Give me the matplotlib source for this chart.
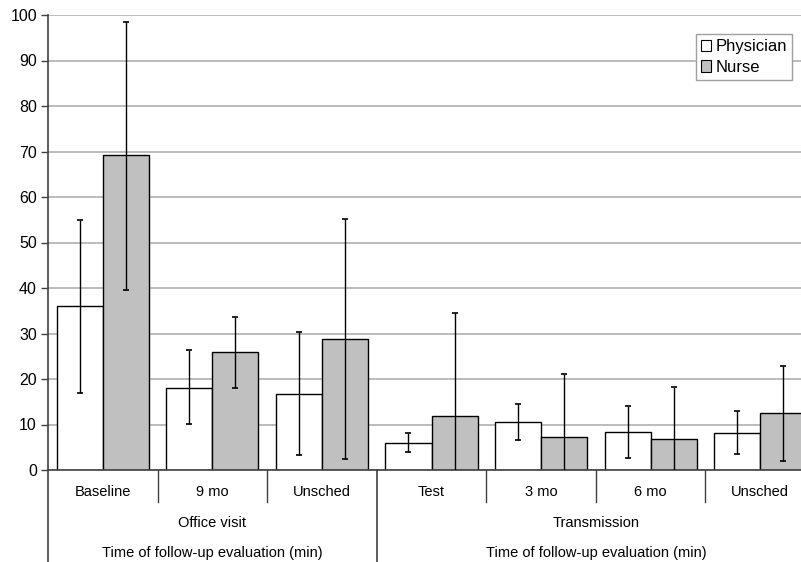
import numpy as np
import matplotlib.pyplot as plt
from matplotlib.patches import Patch

# ===== DATA =====
categories = ['Baseline', '9 mo', 'Unsched', 'Test', '3 mo', '6 mo', 'Unsched']
groups = ['Office visit', 'Transmission']
group_spans = [(0, 2), (3, 6)]
axis_label = 'Time of follow-up evaluation (min)'

physician = [36.0, 18.1, 16.6, 5.9, 10.5, 8.4, 8.2]
physician_lo = [17.0, 10.2, 3.2, 4.0, 6.7, 2.7, 3.6]
physician_hi = [55.0, 26.4, 30.3, 8.1, 14.5, 14.1, 13.0]

nurse = [69.2, 26.0, 28.9, 11.8, 7.3, 6.9, 12.5]
nurse_lo = [39.6, 18.1, 2.5, -10.8, -6.4, -4.4, 2.0]
nurse_hi = [98.5, 33.7, 55.2, 34.4, 21.0, 18.2, 22.9]

plt.rcParams['font.family'] = ['Liberation Sans', 'DejaVu Sans']

fig = plt.figure(figsize=(8.01, 5.62), dpi=100)
ax = fig.add_axes([48/801, 1 - 470/562, 767/801, 455/562])

x = np.arange(len(categories))
w = 0.42
phys = np.array(physician)
nurs = np.array(nurse)
p_err = [phys - np.array(physician_lo), np.array(physician_hi) - phys]
n_err = [nurs - np.array(nurse_lo), np.array(nurse_hi) - nurs]

ax.bar(x - w/2, phys, w, color='white', edgecolor='black', linewidth=1.0, zorder=2)
ax.bar(x + w/2, nurs, w, color='#c0c0c0', edgecolor='black', linewidth=1.0, zorder=2)
ax.errorbar(x - w/2, phys, yerr=p_err, fmt='none', ecolor='black',
            elinewidth=1.0, capsize=2.5, capthick=1.2, zorder=3)
ax.errorbar(x + w/2, nurs, yerr=n_err, fmt='none', ecolor='black',
            elinewidth=1.0, capsize=2.5, capthick=1.2, zorder=3)

ax.set_xlim(-0.5, len(categories) - 0.5)
ax.set_ylim(0, 100)
ax.set_yticks(np.arange(0, 101, 10))
ax.yaxis.grid(True, color='#b0b0b0', linewidth=1.2, zorder=0)
ax.set_axisbelow(True)
ax.tick_params(axis='y', length=5, width=1, color='#404040', labelsize=11.5, pad=3)
ax.set_xticks([])
for s in ['top', 'right']:
    ax.spines[s].set_visible(False)
ax.spines['left'].set_color('#404040')
ax.spines['bottom'].set_color('#404040')
ax.spines['left'].set_linewidth(1.2)
ax.spines['bottom'].set_linewidth(1.2)

# ===== HIERARCHICAL X LABELS =====
tr = ax.get_xaxis_transform()
for i, c in enumerate(categories):
    ax.text(i, -0.048, c, transform=tr, ha='center', va='center', fontsize=10.5)
for b in range(1, len(categories)):
    if b == 3:
        continue
    ax.plot([b - 0.5, b - 0.5], [0, -0.07], transform=tr, color='#404040',
            linewidth=1.0, clip_on=False)
for b in [-0.5, 2.5]:
    ax.plot([b, b], [0, -0.21], transform=tr, color='#404040',
            linewidth=1.2, clip_on=False)
for g, (a, e) in zip(groups, group_spans):
    mid = (a + e) / 2
    ax.text(mid, -0.1165, g, transform=tr, ha='center', va='center', fontsize=10.5)
    ax.text(mid, -0.182, axis_label, transform=tr, ha='center', va='center',
            fontsize=10.5)

# ===== LEGEND =====
handles = [Patch(facecolor='white', edgecolor='black', linewidth=0.8, label='Physician'),
           Patch(facecolor='#c0c0c0', edgecolor='black', linewidth=0.8, label='Nurse')]
leg = fig.legend(handles=handles, loc='upper right',
                 bbox_to_anchor=(792/801, 1 - 34/562), fontsize=12,
                 handlelength=0.65, handleheight=0.65, handletextpad=0.25,
                 borderpad=0.3, labelspacing=0.35, fancybox=False,
                 framealpha=1, borderaxespad=0)
leg.get_frame().set_edgecolor('#a0a0a0')
leg.get_frame().set_linewidth(1.0)

fig.savefig('out.png', dpi=100)
